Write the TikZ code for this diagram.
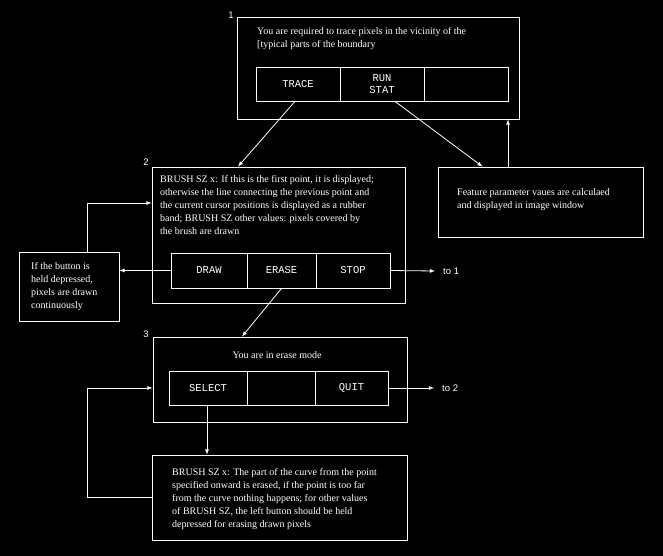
\documentclass[tikz,border=0pt]{standalone}
\usepackage{fontspec}
\setmainfont{Liberation Serif}
\setmonofont{Liberation Mono}
\setsansfont{Liberation Sans}
\usetikzlibrary{positioning}
\tikzset{>=latex}
\tikzset{
  box/.style={draw=white,line width=0.8pt,minimum width=#1},
  btn/.style={draw=white,line width=0.8pt,text=white,font=\ttfamily\fontsize{10.5}{12}\selectfont,align=center,inner sep=0pt},
  txt/.style={text=white,font=\fontsize{10}{13}\selectfont,align=left,inner sep=0pt,anchor=north west},
  lbl/.style={text=white,font=\sffamily\fontsize{9.5}{10}\selectfont,inner sep=0pt},
  conn/.style={white,line width=0.8pt}
}

\begin{document}
\begin{tikzpicture}[x=1pt,y=-1pt]
\fill[black] (0,0) rectangle (663,556);
\useasboundingbox (0,0) rectangle (663,556);
% screen 1
\node[box=282pt,minimum height=102pt] (b1) at (378,68) {};
\node[lbl] (n1) at (231,15) {1};
\node[txt] (t1) at (257,27) {You are required to trace pixels in the vicinity of the\\{[}typical  parts of the boundary};
\node[btn,minimum width=84pt,minimum height=34pt] (trace) at (298,84) {TRACE};
\node[btn,minimum width=84pt,minimum height=34pt] (runstat) at (382,84) {RUN\\STAT};
\node[btn,minimum width=84pt,minimum height=34pt] (empty1) at (466,84) {};
% feature box
\node[box=205pt,minimum height=70pt] (fea) at (540.5,202) {};
\node[txt] (tf) at (457,188) {Feature parameter vaues are calculaed\\and displayed in image window};
% screen 2
\node[box=253pt,minimum height=136pt] (b2) at (278.5,235) {};
\node[lbl] (n2) at (146,162) {2};
\node[txt] (t2) at (160,175) {BRUSH SZ x: If this is the first point, it is displayed;\\otherwise the line connecting the previous point and\\the current cursor positions is displayed as a rubber\\band; BRUSH SZ other values: pixels covered by\\the brush are drawn};
\node[btn,minimum width=76pt,minimum height=35pt] (draw) at (209,270.5) {DRAW};
\node[btn,minimum width=69pt,minimum height=35pt] (erase) at (281.5,270.5) {ERASE};
\node[btn,minimum width=74pt,minimum height=35pt] (stop) at (353,270.5) {STOP};
% hint box
\node[box=100pt,minimum height=69pt] (hint) at (69,286.5) {};
\node[txt] (th) at (31,262) {If the button is\\held depressed,\\pixels are drawn\\continuously};
% screen 3
\node[box=254pt,minimum height=85pt] (b3) at (280,379.5) {};
\node[lbl] (n3) at (146,334) {3};
\node[text=white,font=\fontsize{10}{13}\selectfont] (t3) at (277,355) {You are in erase mode};
\node[btn,minimum width=78pt,minimum height=34pt] (select) at (208,388) {SELECT};
\node[btn,minimum width=68pt,minimum height=34pt] (empty3) at (281,388) {};
\node[btn,minimum width=73pt,minimum height=34pt] (quit) at (351.5,388) {QUIT};
% note box
\node[box=255pt,minimum height=85pt] (note) at (279.5,497.5) {};
\node[txt] (tn) at (172,468) {BRUSH SZ x: The part of the curve from the point\\specified onward is erased, if the point is too far\\from the curve  nothing happens; for other values\\of BRUSH SZ, the left button should be held\\depressed for erasing drawn pixels};
% exits
\coordinate (to1) at (435,271);
\node[lbl,right=8pt of to1] (l1) {to 1};
\coordinate (to2) at (434,388);
\node[lbl,right=8pt of to2] (l2) {to 2};
% connectors
\draw[conn,->] ([xshift=-3pt]trace.south) -- ([xshift=-40.5pt]b2.north);
\draw[conn,->] ([xshift=13pt]runstat.south) -- ([xshift=-58pt]fea.north);
\draw[conn,->] ([xshift=-32.5pt]fea.north) -- ([xshift=-32.5pt]fea.north |- b1.south);
\draw[conn,->] (draw.west) -- (draw.west -| hint.east);
\draw[conn,->] ([xshift=18pt]hint.north) |- ([yshift=32pt]b2.west);
\draw[conn,->] (stop.east) -- (to1);
\draw[conn,->] (erase.south) -- ([xshift=-38pt]b3.north);
\draw[conn,->] (quit.east) -- (to2);
\draw[conn,->] ([xshift=-1pt]select.south) -- ([xshift=-1pt]select.south |- note.north);
\draw[conn,->] (note.west) -- ++(-64pt,0) |- (b3.west |- select);
\end{tikzpicture}
\end{document}
